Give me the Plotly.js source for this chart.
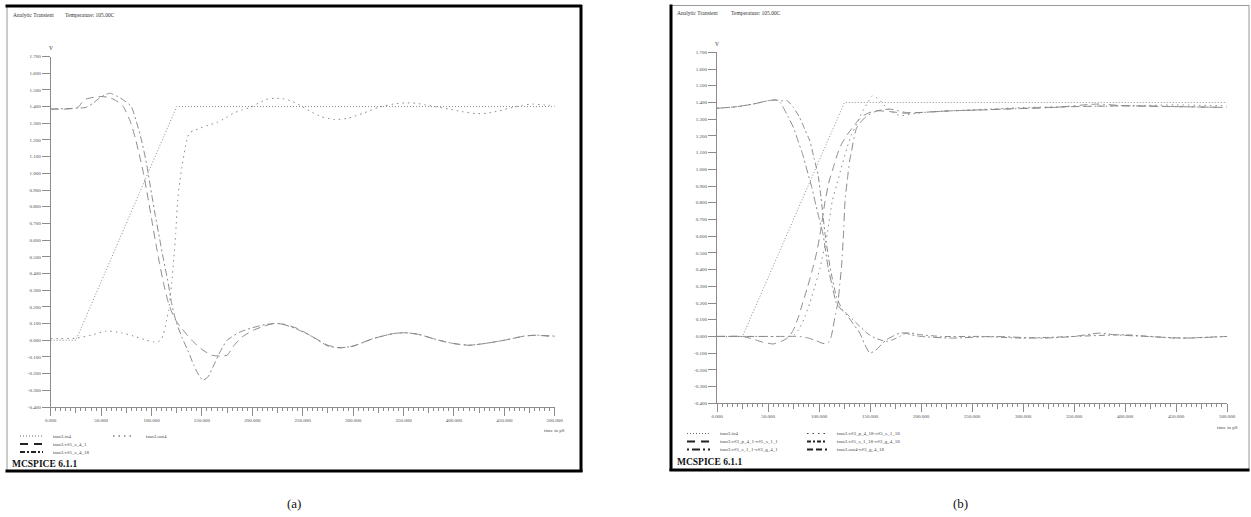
<!DOCTYPE html>
<html><head><meta charset="utf-8">
<script src="https://cdn.plot.ly/plotly-3.0.1.min.js"></script>
<style>html,body{margin:0;padding:0;background:#fff}#chart{width:1251px;height:517px}</style>
</head><body><div id="chart"></div>
<script>
// ---------------- data ----------------
const xTickVals = [0, 50, 100, 150, 200, 250, 300, 350, 400, 450, 500];
const xTickText = ["0.000", "50.000", "100.000", "150.000", "200.000", "250.000", "300.000", "350.000", "400.000", "450.000", "500.000"];
const yTickVals = [-0.4, -0.3, -0.2, -0.1, 0, 0.1, 0.2, 0.3, 0.4, 0.5, 0.6, 0.7, 0.8, 0.9, 1.0, 1.1, 1.2, 1.3, 1.4, 1.5, 1.6, 1.7];
const yTickText = ["-0.400", "-0.300", "-0.200", "-0.100", "0.000", "0.100", "0.200", "0.300", "0.400", "0.500", "0.600", "0.700", "0.800", "0.900", "1.000", "1.100", "1.200", "1.300", "1.400", "1.500", "1.600", "1.700"];

// input ramp (both panels)
const tIn4 = [0, 25, 125, 500];
const vIn4 = [0, 0, 1.4, 1.4];

// panel (a)
const tA_out4 = [0, 10, 25, 40, 55, 70, 85, 95, 102, 108, 110, 112, 115, 117, 120, 122, 124, 126, 128, 130, 133, 136, 138, 142, 148, 157, 165, 173, 181, 190, 198, 206, 214, 222, 230, 240, 248, 258, 268, 282, 295, 310, 325, 340, 351, 362, 372, 383, 395, 408, 421, 433, 445, 458, 468, 478, 490, 500];
const vA_out4 = [0.01, 0.01, 0.012, 0.03, 0.055, 0.045, 0.02, 0.0, -0.01, -0.005, 0.01, 0.04, 0.12, 0.18, 0.34, 0.48, 0.64, 0.84, 0.95, 1.03, 1.14, 1.22, 1.245, 1.255, 1.27, 1.29, 1.305, 1.33, 1.36, 1.38, 1.395, 1.42, 1.443, 1.45, 1.448, 1.43, 1.405, 1.37, 1.34, 1.322, 1.33, 1.36, 1.395, 1.415, 1.422, 1.42, 1.41, 1.398, 1.385, 1.37, 1.358, 1.36, 1.375, 1.395, 1.408, 1.415, 1.41, 1.405];

const tA_s41 = [0, 15, 25, 28, 31, 35, 42, 50, 58, 65, 72, 79, 84, 88, 92, 96, 100, 104, 108, 112, 116, 120, 125, 130, 140, 150, 160, 168, 175, 182, 190, 201, 212, 221, 232, 245, 260, 275, 287, 300, 320, 340, 352, 365, 385, 400, 415, 430, 450, 470, 482, 500];
const vA_s41 = [1.385, 1.385, 1.39, 1.40, 1.425, 1.445, 1.455, 1.46, 1.455, 1.435, 1.40, 1.31, 1.21, 1.11, 1.00, 0.87, 0.73, 0.59, 0.46, 0.34, 0.24, 0.17, 0.11, 0.07, 0.0, -0.055, -0.09, -0.095, -0.09, -0.03, 0.02, 0.06, 0.085, 0.10, 0.095, 0.07, 0.02, -0.03, -0.045, -0.035, 0.01, 0.04, 0.045, 0.035, 0.0, -0.02, -0.03, -0.02, 0.0, 0.025, 0.03, 0.02];

const tA_s418 = [0, 25, 35, 42, 48, 54, 59, 65, 72, 80, 85, 90, 95, 100, 104, 108, 112, 116, 120, 124, 130, 136, 142, 147, 151, 156, 161, 168, 175, 188, 200, 214, 227, 243, 260, 275, 287, 300, 320, 340, 352, 365, 385, 400, 415, 430, 450, 470, 482, 500];
const vA_s418 = [1.385, 1.39, 1.395, 1.42, 1.45, 1.47, 1.48, 1.465, 1.44, 1.40, 1.31, 1.20, 1.06, 0.88, 0.74, 0.61, 0.48, 0.36, 0.22, 0.12, 0.02, -0.06, -0.15, -0.21, -0.24, -0.22, -0.16, -0.07, 0.0, 0.05, 0.075, 0.095, 0.10, 0.07, 0.02, -0.035, -0.045, -0.035, 0.01, 0.04, 0.045, 0.035, 0.0, -0.02, -0.03, -0.02, 0.0, 0.025, 0.03, 0.025];

// panel (b)
const tB_p41 = [0, 25, 35, 45, 55, 63, 70, 75, 80, 84, 89, 94, 98, 101, 106, 110, 114, 118, 122, 128, 133, 138, 143, 150, 158, 170, 185, 200, 230, 260, 300, 350, 400, 450, 500];
const vB_p41 = [0, 0, -0.015, -0.035, -0.045, -0.03, -0.005, 0.04, 0.12, 0.2, 0.3, 0.41, 0.51, 0.61, 0.81, 0.93, 1.01, 1.09, 1.15, 1.21, 1.25, 1.29, 1.32, 1.34, 1.35, 1.345, 1.335, 1.34, 1.35, 1.355, 1.365, 1.375, 1.38, 1.375, 1.37];

const tB_s11g41 = [0, 20, 35, 50, 57, 62, 65, 70, 75, 80, 84, 88, 93, 96, 100, 104, 109, 113, 117, 122, 127, 133, 140, 145, 150, 156, 161, 166, 172, 179, 185, 190, 200, 230, 270, 320, 350, 375, 390, 420, 460, 500];
const vB_s11g41 = [1.365, 1.375, 1.39, 1.41, 1.415, 1.40, 1.37, 1.31, 1.25, 1.16, 1.09, 1.0, 0.89, 0.81, 0.71, 0.61, 0.41, 0.30, 0.2, 0.16, 0.13, 0.08, 0.02, -0.05, -0.1, -0.08, -0.05, -0.02, 0.0, 0.02, 0.02, 0.01, 0.0, -0.01, 0.0, -0.01, 0.0, 0.02, 0.01, 0.0, -0.01, 0.0];

const tB_p418 = [0, 25, 50, 70, 76, 80, 85, 91, 96, 101, 108, 113, 117, 121, 127, 132, 137, 142, 147, 152, 156, 160, 166, 172, 180, 190, 210, 250, 300, 350, 400, 450, 500];
const vB_p418 = [0, 0, 0, 0, 0.01, 0.04, 0.1, 0.2, 0.3, 0.41, 0.61, 0.81, 0.9, 0.99, 1.12, 1.21, 1.27, 1.34, 1.39, 1.44, 1.43, 1.41, 1.37, 1.34, 1.32, 1.33, 1.345, 1.355, 1.37, 1.375, 1.38, 1.385, 1.38];

const tB_s118g418 = [0, 20, 35, 50, 57, 64, 69, 75, 81, 86, 91, 95, 99, 102, 106, 111, 117, 123, 130, 140, 147, 155, 166, 172, 179, 185, 190, 200, 220, 260, 300, 350, 400, 450, 500];
const vB_s118g418 = [1.365, 1.375, 1.39, 1.41, 1.415, 1.41, 1.41, 1.37, 1.31, 1.24, 1.17, 1.07, 0.97, 0.83, 0.61, 0.41, 0.24, 0.16, 0.12, 0.06, 0.02, -0.01, -0.03, -0.02, 0.0, 0.02, 0.02, 0.01, 0.0, 0.0, -0.01, 0.0, 0.01, -0.01, 0.0];

const tB_out4g418 = [0, 25, 60, 80, 90, 97, 103, 107, 110, 112, 114, 116, 118.5, 120.5, 122, 124, 125.5, 128, 130, 132, 134, 137, 142, 147, 157, 170, 185, 200, 230, 280, 330, 372, 400, 450, 500];
const vB_out4g418 = [0, 0, 0, 0, -0.01, -0.025, -0.04, -0.045, -0.03, 0.0, 0.06, 0.13, 0.2, 0.32, 0.41, 0.61, 0.81, 0.95, 1.05, 1.11, 1.18, 1.25, 1.29, 1.32, 1.35, 1.36, 1.34, 1.34, 1.35, 1.36, 1.37, 1.39, 1.38, 1.375, 1.37];

const namesA = ["tran3.in4", "tran3.v#5_s_4_1", "tran3.v#5_s_4_18", "tran3.out4"];
const namesB = ["tran3.in4", "tran3.v#3_p_4_1-v#5_s_1_1", "tran3.v#5_s_1_1-v#3_g_4_1", "tran3.v#3_p_4_18-v#5_s_1_18", "tran3.v#5_s_1_18-v#3_g_4_18", "tran3.out4-v#3_g_4_18"];

// ---------------- layout helpers ----------------
const W = 1251, H = 517;
const px = x => x / W;
const py = y => 1 - y / H;
const CURVE = '#8a8a8a';
const AXC = '#8c8c8c';
const TXT = '#4a4a4a';
const FONT = 'Liberation Serif, Times New Roman, serif';

const dashA = ["1px,2px", "8px,5px", "7px,3px,2px,3px", "1.5px,4px"];
const dashB = ["1px,2px", "8px,5px", "2px,3px,8px,3px", "1.5px,4px", "6px,3px,2px,3px", "8px,4px,8px,4px,1.5px,4px"];

function tr(x, y, xa, ya, dash, name, shape) {
  return {x: x, y: y, xaxis: xa, yaxis: ya, type: 'scatter', mode: 'lines', name: name,
    line: {color: CURVE, width: 1, dash: dash, shape: shape || 'spline', smoothing: 0.5},
    hoverinfo: 'skip', showlegend: false};
}

const data = [
  tr(tIn4, vIn4, 'x', 'y', dashA[0], namesA[0], 'linear'),
  tr(tA_s41, vA_s41, 'x', 'y', dashA[1], namesA[1]),
  tr(tA_s418, vA_s418, 'x', 'y', dashA[2], namesA[2]),
  tr(tA_out4, vA_out4, 'x', 'y', dashA[3], namesA[3]),
  tr(tIn4, vIn4, 'x2', 'y2', dashB[0], namesB[0], 'linear'),
  tr(tB_p41, vB_p41, 'x2', 'y2', dashB[1], namesB[1]),
  tr(tB_s11g41, vB_s11g41, 'x2', 'y2', dashB[2], namesB[2]),
  tr(tB_p418, vB_p418, 'x2', 'y2', dashB[3], namesB[3]),
  tr(tB_s118g418, vB_s118g418, 'x2', 'y2', dashB[4], namesB[4]),
  tr(tB_out4g418, vB_out4g418, 'x2', 'y2', dashB[5], namesB[5]),
  {x: [], y: [], xaxis: 'x3', yaxis: 'y', type: 'scatter', showlegend: false, hoverinfo: 'skip'},
  {x: [], y: [], xaxis: 'x4', yaxis: 'y2', type: 'scatter', showlegend: false, hoverinfo: 'skip'}
];

const PA = {x0: 50.7, x1: 554.7, yTop: 56.5, yBot: 407};
const PB = {x0: 717, x1: 1227, yTop: 52.3, yBot: 403.3};

function xaxisDef(p, anchor) {
  return {domain: [px(p.x0), px(p.x1)], range: [0, 500], anchor: anchor, showline: true, linecolor: AXC, linewidth: 1,
    ticks: 'outside', ticklen: 8, tickwidth: 1, tickcolor: AXC, tickmode: 'array', tickvals: xTickVals, ticktext: xTickText,
    tickfont: {family: FONT, size: 5, color: TXT}, showgrid: false, zeroline: false, fixedrange: true,
    minor: {tickmode: 'linear', tick0: 0, dtick: 5, ticks: 'outside', ticklen: 3, tickwidth: 1, tickcolor: AXC, showgrid: false}};
}
function yaxisDef(p, anchor) {
  return {domain: [py(p.yBot), py(p.yTop)], range: [-0.4, 1.7], anchor: anchor, showline: true, linecolor: AXC, linewidth: 1,
    ticks: 'outside', ticklen: 8, tickwidth: 1, tickcolor: AXC, tickmode: 'array', tickvals: yTickVals, ticktext: yTickText,
    tickfont: {family: FONT, size: 5, color: TXT}, showgrid: false, zeroline: false, fixedrange: true};
}
function midTicks(over, anchor) {
  return {overlaying: over, anchor: anchor, range: [0, 500], showline: false, showgrid: false, zeroline: false,
    showticklabels: false, ticks: 'outside', ticklen: 5, tickwidth: 1, tickcolor: AXC, tickmode: 'linear', tick0: 25, dtick: 50, fixedrange: true};
}

const shapes = [];
const ann = [];
function hline(x0, x1, y, color, width, dash) {
  shapes.push({type: 'line', xref: 'paper', yref: 'paper', x0: px(x0), x1: px(x1), y0: py(y), y1: py(y), line: {color: color, width: width, dash: dash || 'solid'}});
}
function vline(x, y0, y1, color, width) {
  shapes.push({type: 'line', xref: 'paper', yref: 'paper', x0: px(x), x1: px(x), y0: py(y0), y1: py(y1), line: {color: color, width: width}});
}
function text(t, x, y, size, color, xanchor, bold) {
  ann.push({text: bold ? '<b>' + t + '</b>' : t, xref: 'paper', yref: 'paper', x: px(x), y: py(y), xanchor: xanchor || 'left', yanchor: 'middle',
    showarrow: false, font: {family: FONT, size: size, color: color}});
}

// frames
vline(7, 5, 471, '#9a9a9a', 1);
hline(5.5, 582, 6, '#000', 3);
vline(581, 5, 472, '#000', 3);
hline(5.5, 582.5, 471, '#000', 3);
hline(671, 1249, 5.5, '#9a9a9a', 1);
vline(1249, 5, 470, '#9a9a9a', 1);
vline(671, 4.5, 471, '#000', 3);
hline(669.5, 1249.5, 470, '#000', 3);

// titles
text('Analytic Transient', 11, 15, 5.5, '#333');
text('Temperature: 105.00C', 63, 15, 5.5, '#333');
text('Analytic Transient', 675, 13.5, 5.5, '#333');
text('Temperature: 105.00C', 729, 13.5, 5.5, '#333');
text('V', PA.x0, PA.yTop - 8.5, 5.5, '#333', 'center');
text('V', PB.x0, PB.yTop - 8, 5.5, '#333', 'center');
text('time in pS', PA.x1, 430, 5, TXT, 'center');
text('time in pS', PB.x1, 427, 5, TXT, 'center');

// legends (a)
const legA = [
  {row: 436, xs: 20, xe: 43, xt: 51, i: 0, w: 1, c: '#666', d: '1px,2px'},
  {row: 444, xs: 20, xe: 43, xt: 51, i: 1, w: 2, c: '#222', d: '8px,6px'},
  {row: 452, xs: 20, xe: 43, xt: 51, i: 2, w: 2, c: '#222', d: '5px,2px,2px,2px'},
  {row: 436, xs: 113, xe: 134, xt: 144, i: 3, w: 1.2, c: '#444', d: '1.5px,4px'}
];
legA.forEach(l => { hline(l.xs, l.xe, l.row, l.c, l.w, l.d); text(namesA[l.i], l.xt, l.row, 5, TXT); });
const legB = [
  {row: 433.5, xs: 687, xe: 710, xt: 718, i: 0, w: 1, c: '#666', d: '1px,2px'},
  {row: 441.5, xs: 687, xe: 710, xt: 718, i: 1, w: 2, c: '#222', d: '8px,6px'},
  {row: 449.5, xs: 687, xe: 710, xt: 718, i: 2, w: 2, c: '#222', d: '2px,3px,8px,3px'},
  {row: 433.5, xs: 807, xe: 827, xt: 835, i: 3, w: 1.2, c: '#444', d: '1.5px,4px'},
  {row: 441.5, xs: 807, xe: 827, xt: 835, i: 4, w: 2, c: '#222', d: '4px,2px,2px,2px'},
  {row: 449.5, xs: 807, xe: 827, xt: 835, i: 5, w: 2, c: '#222', d: '6px,3px,6px,3px,2px,3px'}
];
legB.forEach(l => { hline(l.xs, l.xe, l.row, l.c, l.w, l.d); text(namesB[l.i], l.xt, l.row, 5, TXT); });

text('MCSPICE 6.1.1', 10, 463.5, 9.5, '#111', 'left', true);
text('MCSPICE 6.1.1', 675, 461.5, 9.5, '#111', 'left', true);

text('(a)', 294, 503, 13, '#111', 'center');
text('(b)', 960, 503, 13, '#111', 'center');

const layout = {
  width: W, height: H, margin: {l: 0, r: 0, t: 0, b: 0}, paper_bgcolor: '#fff', plot_bgcolor: '#fff',
  showlegend: false, font: {family: FONT},
  xaxis: xaxisDef(PA, 'y'), yaxis: yaxisDef(PA, 'x'),
  xaxis2: xaxisDef(PB, 'y2'), yaxis2: yaxisDef(PB, 'x2'),
  xaxis3: midTicks('x', 'y'), xaxis4: midTicks('x2', 'y2'),
  shapes: shapes, annotations: ann
};

Plotly.newPlot('chart', data, layout, {displayModeBar: false, staticPlot: true});
</script></body></html>
